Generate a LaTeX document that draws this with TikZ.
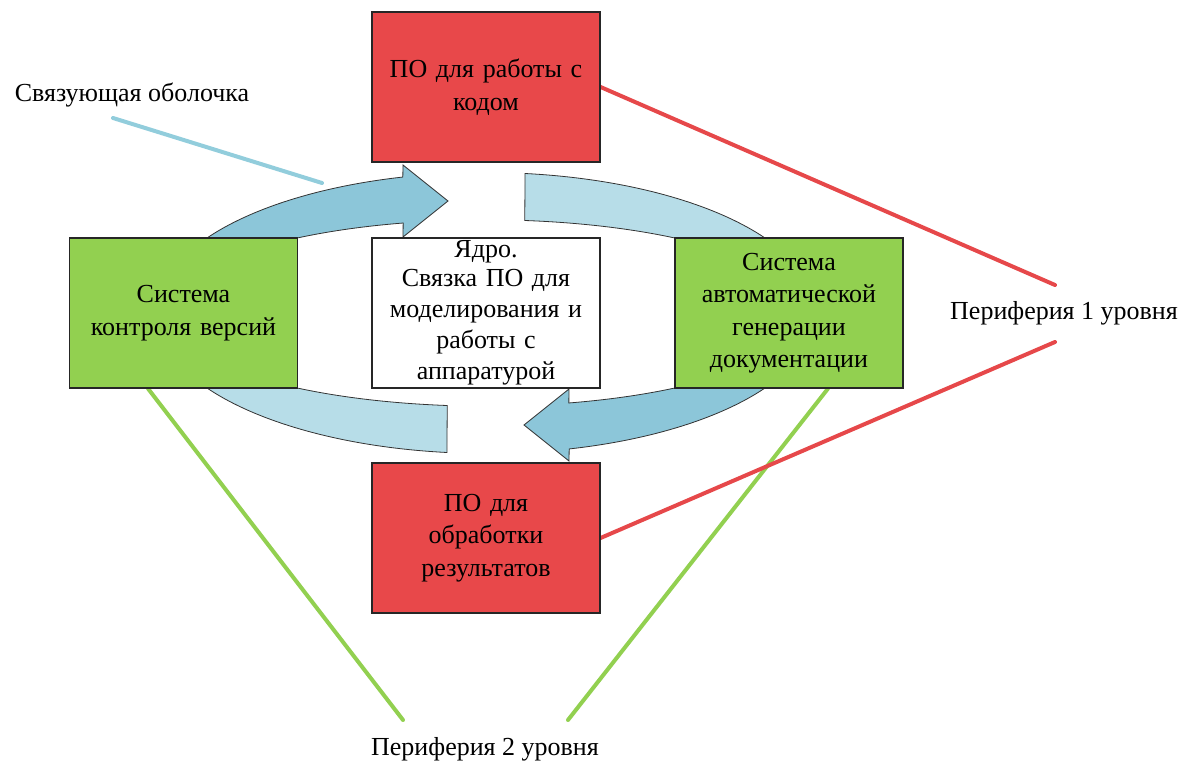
\documentclass[tikz,border=0pt]{standalone}
\usepackage{fontspec}
\setmainfont{Liberation Serif}
\pgfdeclarelayer{background}
\pgfsetlayers{background,main}
\definecolor{boxred}{RGB}{232,72,74}
\definecolor{boxgreen}{RGB}{146,208,80}
\definecolor{arrowdark}{RGB}{140,198,217}
\definecolor{arrowlight}{RGB}{183,221,232}
\definecolor{linered}{RGB}{230,72,74}
\definecolor{linegreen}{RGB}{146,208,80}
\definecolor{lineblue}{RGB}{146,205,220}
\begin{document}
\begin{tikzpicture}[x=1pt,y=-1pt,
  box/.style={draw=black!85, line width=1.1pt, minimum width=228pt, minimum height=150pt,
    text width=222pt, align=center, inner sep=0pt,
    font=\fontsize{26}{32.5}\selectfont},
  redbox/.style={box, fill=boxred},
  greenbox/.style={box, fill=boxgreen},
  whitebox/.style={box, fill=white, font=\fontsize{26}{31}\selectfont},
  label/.style={font=\fontsize{26}{32}\selectfont, inner sep=0pt},
  shell/.style={draw=black!80, line width=0.8pt},
  link/.style={line width=4pt, line cap=round}]
\useasboundingbox (0,0) rectangle (1195,765);

% ring of curved arrows around the core
\path[shell, fill=arrowdark]
  plot[domain=147.7:104.6, samples=40] ({486+330*cos(\x)},{313-140.5*sin(\x)})
  -- (403,165) -- (448,201) -- (403,237)
  -- plot[domain=105.1:126.5, samples=30] ({486+318*cos(\x)},{313-93.2*sin(\x)})
  -- cycle;
\path[shell, fill=arrowlight]
  plot[domain=32.3:83.2, samples=40] ({486+330*cos(\x)},{313-140.5*sin(\x)})
  -- plot[domain=83:53.5, samples=40] ({486+318*cos(\x)},{313-93.2*sin(\x)})
  -- cycle;
\path[shell, fill=arrowlight]
  plot[domain=212.3:263.2, samples=40] ({486+330*cos(\x)},{313-140.5*sin(\x)})
  -- plot[domain=263:233.5, samples=40] ({486+318*cos(\x)},{313-93.2*sin(\x)})
  -- cycle;
\path[shell, fill=arrowdark]
  plot[domain=327.7:284.6, samples=40] ({486+330*cos(\x)},{313-140.5*sin(\x)})
  -- (569,461) -- (524,425) -- (569,389)
  -- plot[domain=285.1:306.5, samples=30] ({486+318*cos(\x)},{313-93.2*sin(\x)})
  -- cycle;

% blocks
\node[redbox] (code) at (486,87) {ПО для работы с\\кодом};
\node[redbox] (results) at (486,538) {ПО для\\обработки\\результатов};
\node[greenbox] (vcs) at (183.5,313) {Система\\контроля версий};
\node[greenbox] (docs) at (789,313) {Система\\автоматической\\генерации\\документации};
\node[whitebox] (core) at (486,313) {\raisebox{-2pt}{Ядро.}\\Связка ПО для\\моделирования и\\работы с\\аппаратурой};

% captions
\node[label] (shelltxt) at (132,95) {Связующая оболочка};
\node[label] (per1) at (1064,313) {Периферия 1 уровня};
\node[label] (per2) at (485,749) {Периферия 2 уровня};

\coordinate (shellfrom) at (113,118);
\coordinate (shellto) at (322,183);
\coordinate (p1a) at (1055,285);
\coordinate (p1b) at (1055,342);
\coordinate (p2a) at (403,720);
\coordinate (p2b) at (568,720);

\begin{pgfonlayer}{background}
  \draw[link, lineblue] (shellfrom) -- (shellto);
  \draw[link, linegreen] ([xshift=-35.5pt]vcs.south) -- (p2a);
  \draw[link, linegreen] ([xshift=39pt]docs.south) -- (p2b);
  \draw[link, linered] (code.east) -- (p1a);
  \draw[link, linered] (results.east) -- (p1b);
\end{pgfonlayer}
\end{tikzpicture}
\end{document}
